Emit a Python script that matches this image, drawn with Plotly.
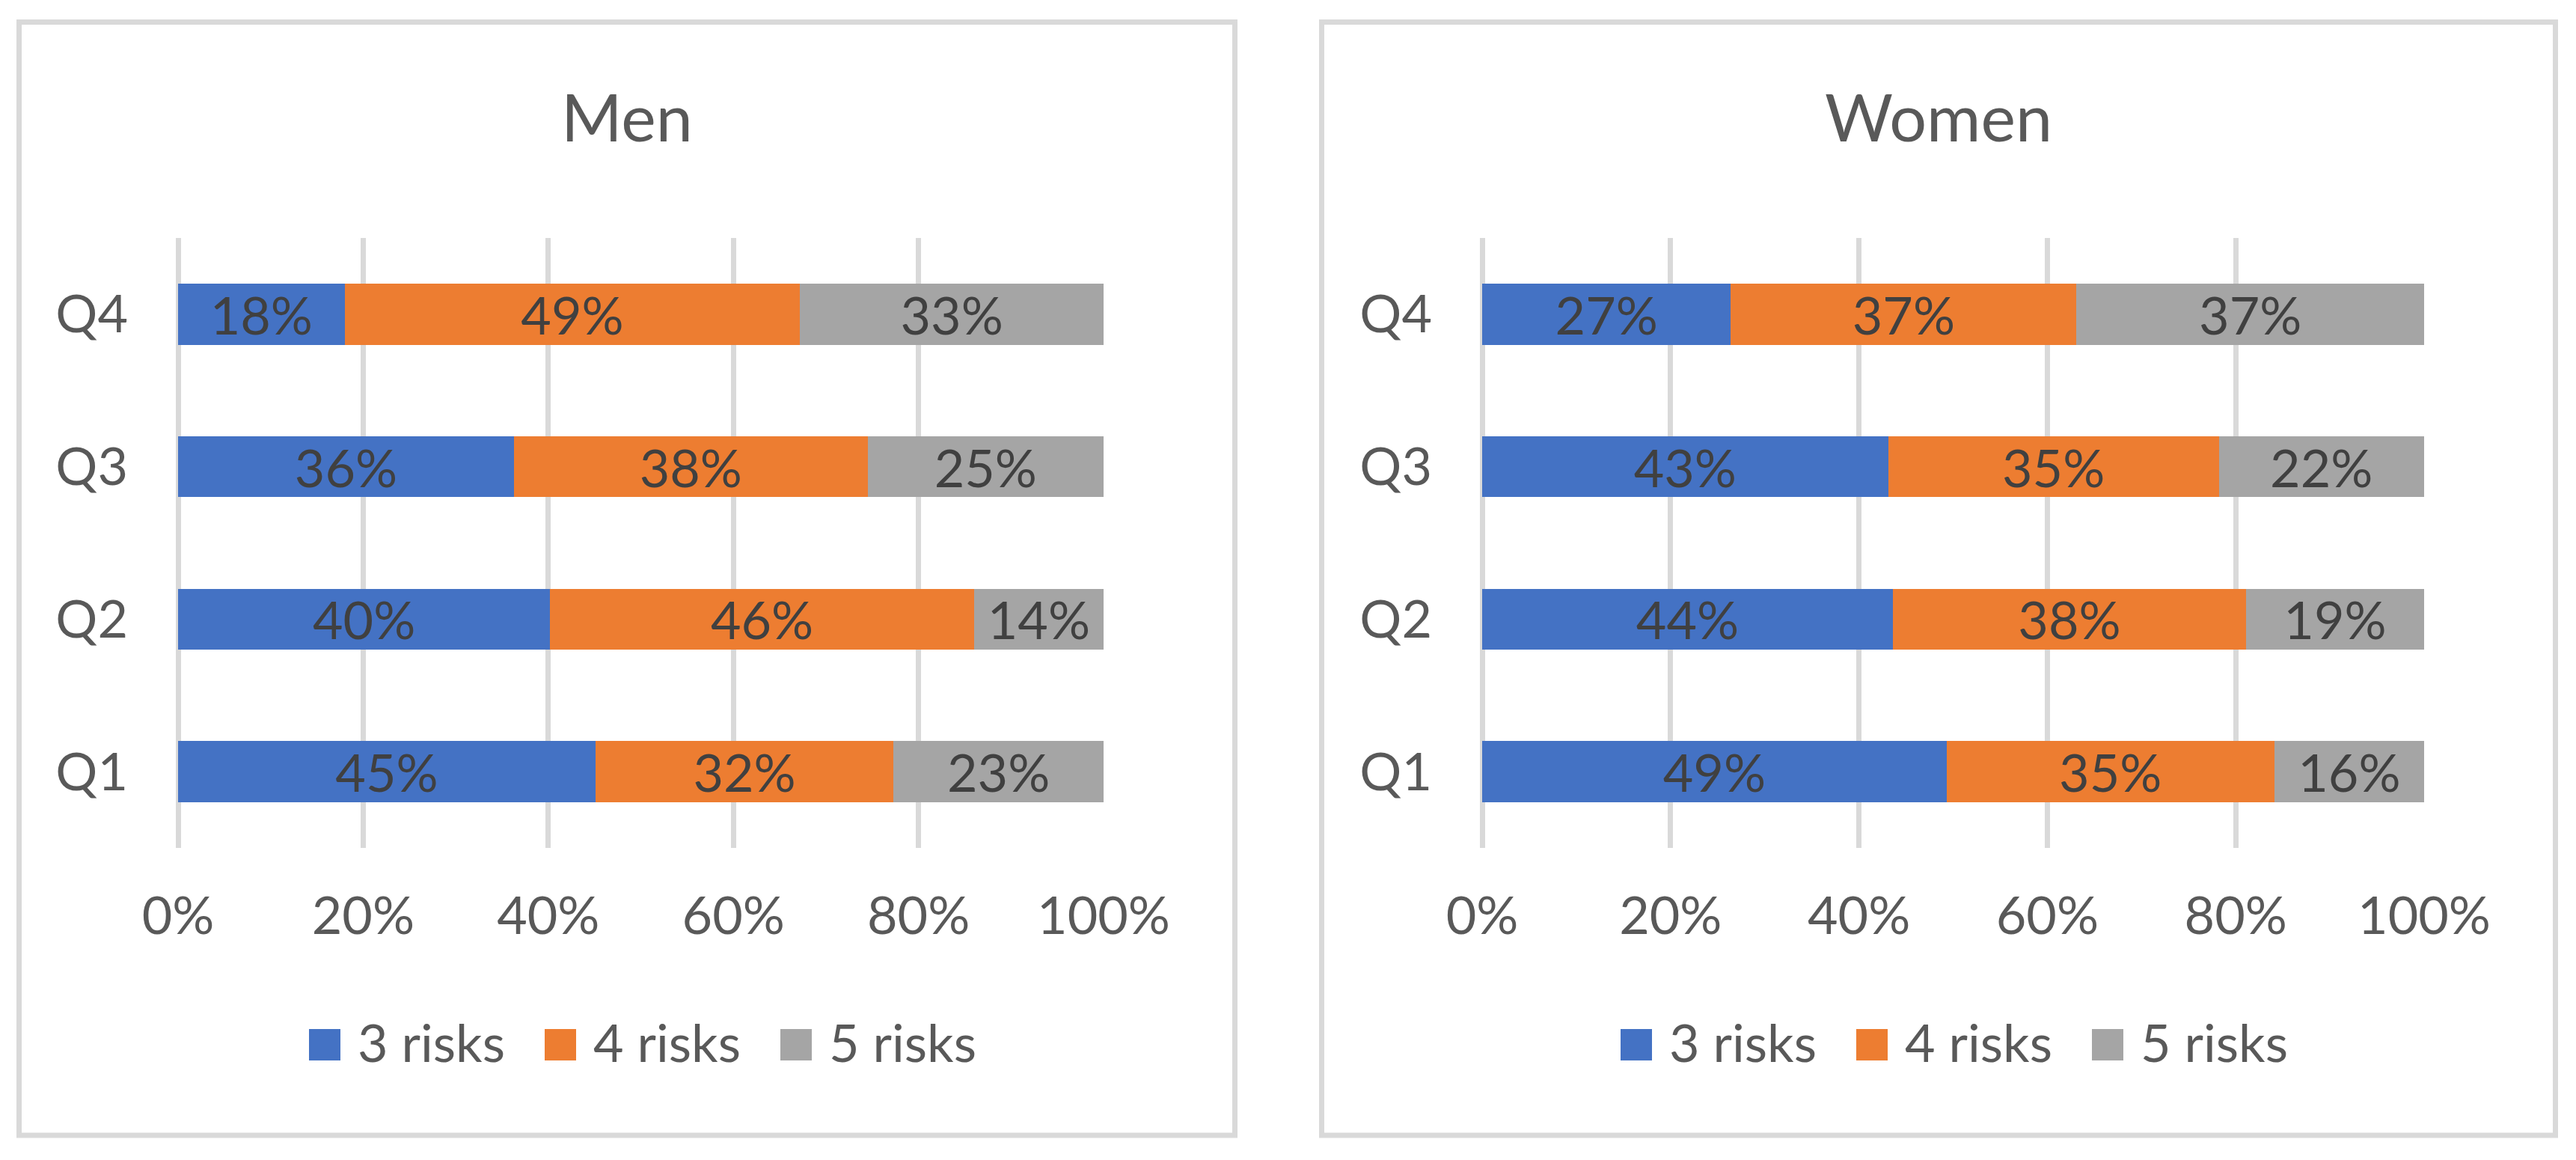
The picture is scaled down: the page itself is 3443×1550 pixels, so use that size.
import plotly.graph_objects as go

# ---------------- data ----------------
categories = ["Q1", "Q2", "Q3", "Q4"]
series_names = ["3 risks", "4 risks", "5 risks"]
series_colors = ["#4472C4", "#ED7D31", "#A5A5A5"]

men_3 = [45.1, 40.2, 36.3, 18.0]
men_4 = [32.2, 45.8, 38.2, 49.2]
men_5 = [22.7, 14.0, 25.5, 32.8]
men_3_labels = ["45%", "40%", "36%", "18%"]
men_4_labels = ["32%", "46%", "38%", "49%"]
men_5_labels = ["23%", "14%", "25%", "33%"]

women_3 = [49.3, 43.6, 43.1, 26.4]
women_4 = [34.8, 37.5, 35.1, 36.7]
women_5 = [15.9, 18.9, 21.8, 36.9]
women_3_labels = ["49%", "44%", "43%", "27%"]
women_4_labels = ["35%", "38%", "35%", "37%"]
women_5_labels = ["16%", "19%", "22%", "37%"]

x_tick_values = [0, 20, 40, 60, 80, 100]
x_tick_labels = ["0%", "20%", "40%", "60%", "80%", "100%"]

panel_titles = ["Men", "Women"]

# ---------------- geometry ----------------
PAGE_W, PAGE_H = 3443, 1550
BODY = 8                       # default page body margin in the browser
W, H = PAGE_W - 2 * BODY, PAGE_H - 2 * BODY
FONT = "Lato"
GRID = "#D9D9D9"
TXT = "#595959"
LBL = "#404040"

def px(x):
    return (x - BODY) / W

def py(y):
    return 1 - (y - BODY) / H

fig = go.Figure()

panels = [
    dict(vals=[men_3, men_4, men_5],
         labels=[men_3_labels, men_4_labels, men_5_labels],
         xa="x", ya="y"),
    dict(vals=[women_3, women_4, women_5],
         labels=[women_3_labels, women_4_labels, women_5_labels],
         xa="x2", ya="y2"),
]

for p in panels:
    for name, color, v, lab in zip(series_names, series_colors, p["vals"], p["labels"]):
        fig.add_trace(go.Bar(
            y=categories, x=v, orientation="h", name=name,
            marker=dict(color=color, line=dict(width=0)),
            text=lab, texttemplate="%{text}", textposition="inside",
            insidetextanchor="middle", textangle=0, constraintext="none",
            insidetextfont=dict(family=FONT, size=70, color=LBL),
            xaxis=p["xa"], yaxis=p["ya"], showlegend=False, hoverinfo="skip",
        ))

y_dom = [py(1133), py(318)]
x_doms = [[px(238), px(1475)], [px(1981), px(3240)]]

def xaxis_cfg(dom, anchor):
    return dict(domain=dom, anchor=anchor, range=[0, 100], tickmode="array",
                tickvals=x_tick_values, ticktext=x_tick_labels,
                showgrid=True, gridcolor=GRID, gridwidth=7,
                zeroline=True, zerolinecolor=GRID, zerolinewidth=7,
                showline=False, ticks="", ticklabelstandoff=44, automargin=False,
                tickfont=dict(family=FONT, size=70, color=TXT), fixedrange=True)

def yaxis_cfg(anchor):
    return dict(domain=y_dom, anchor=anchor, type="category",
                categoryorder="array", categoryarray=categories,
                range=[-0.5, 3.5], showgrid=False, zeroline=False,
                showline=False, ticks="", ticklabelstandoff=66, automargin=False,
                tickfont=dict(family=FONT, size=70, color=TXT), fixedrange=True)

fig.update_layout(
    width=W, height=H, autosize=False,
    margin=dict(l=0, r=0, t=0, b=0, pad=0, autoexpand=False),
    paper_bgcolor="white", plot_bgcolor="white",
    barmode="stack", bargap=0.6, showlegend=False,
    font=dict(family=FONT, color=TXT),
    xaxis=xaxis_cfg(x_doms[0], "y"), yaxis=yaxis_cfg("x"),
    xaxis2=xaxis_cfg(x_doms[1], "y2"), yaxis2=yaxis_cfg("x2"),
)

# panel borders
borders = [(25.5, 29.5, 1650.5, 1517), (1766.5, 29.5, 3415.5, 1517)]
for (x0, y0, x1, y1) in borders:
    fig.add_shape(type="rect", xref="paper", yref="paper",
                  x0=px(x0), x1=px(x1), y0=py(y1), y1=py(y0),
                  line=dict(color=GRID, width=7), fillcolor="rgba(0,0,0,0)",
                  layer="below")

# panel titles
title_x = [838, 2591]
for t, cx in zip(panel_titles, title_x):
    fig.add_annotation(text=t, x=px(cx), y=py(155), xref="paper", yref="paper",
                       xanchor="center", yanchor="middle", showarrow=False,
                       font=dict(family=FONT, size=88, color=TXT))

# manual legends
legend_start = [413, 2166]
step = 315
sq = 42
ly = 1396
for start in legend_start:
    for i, (name, color) in enumerate(zip(series_names, series_colors)):
        x0 = start + i * step
        fig.add_shape(type="rect", xref="paper", yref="paper",
                      x0=px(x0), x1=px(x0 + sq), y0=py(ly + sq / 2), y1=py(ly - sq / 2),
                      line=dict(width=0), fillcolor=color)
        fig.add_annotation(text=name, x=px(x0 + sq + 21), y=py(ly - 4),
                           xref="paper", yref="paper", xanchor="left", yanchor="middle",
                           showarrow=False, font=dict(family=FONT, size=70, color=TXT))

fig.write_html("out.html", config={"displayModeBar": False})
